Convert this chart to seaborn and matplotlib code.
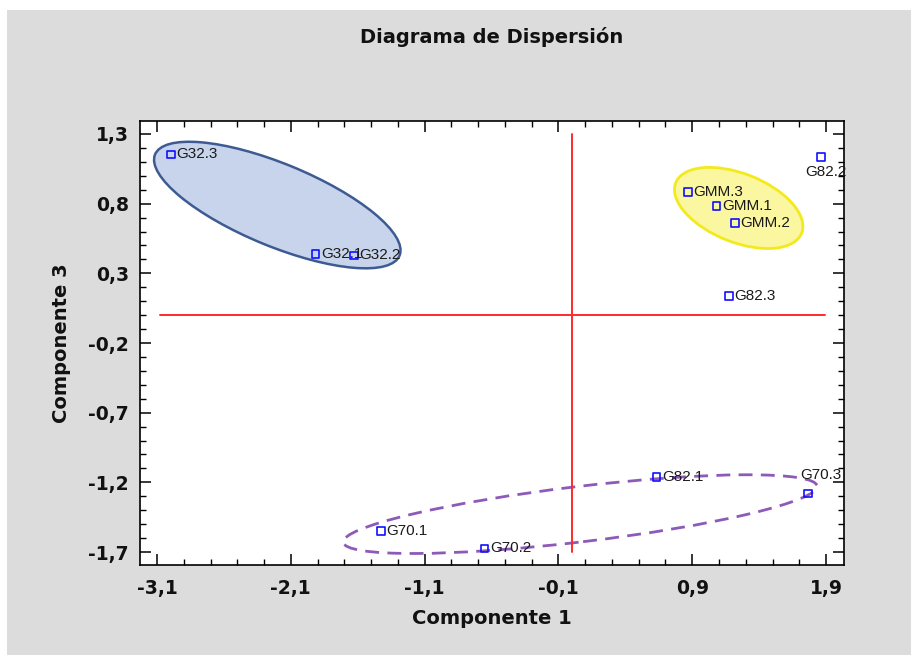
import numpy as np
import pandas as pd
import matplotlib
matplotlib.use("Agg")
import matplotlib.pyplot as plt
from matplotlib.patches import Ellipse, Rectangle
import seaborn as sns

# ---------------- data ----------------
labels = ["G32.3", "G32.1", "G32.2", "GMM.3", "GMM.1", "GMM.2",
          "G82.2", "G82.3", "G82.1", "G70.3", "G70.1", "G70.2"]
comp1 = [-2.996, -1.916, -1.628, 0.868, 1.081, 1.219,
         1.863, 1.174, 0.634, 1.766, -1.428, -0.652]
comp3 = [1.154, 0.439, 0.429, 0.884, 0.783, 0.659,
         1.133, 0.139, -1.160, -1.279, -1.550, -1.674]

xticks = [-3.1, -2.1, -1.1, -0.1, 0.9, 1.9]
yticks = [1.3, 0.8, 0.3, -0.2, -0.7, -1.2, -1.7]

# group ellipses: center x, center y, width, height, angle
ell_centers_x = [-2.201, 1.247, 0.062]
ell_centers_y = [0.790, 0.769, -1.428]
ell_widths = [1.966, 1.008, 3.564]
ell_heights = [0.594, 0.494, 0.398]
ell_angles = [-21.5, -20.5, 6.5]

df = pd.DataFrame({"Componente 1": comp1, "Componente 3": comp3, "label": labels})

# ---------------- style ----------------
sns.set_style("ticks")
plt.rcParams["font.family"] = ["DejaVu Sans"]

W, H = 912, 655
fig = plt.figure(figsize=(W / 100, H / 100), dpi=100)
fig.patch.set_facecolor("white")
fig.patches.append(Rectangle((7 / W, 0), 1 - 7 / W, 1 - 10 / H, transform=fig.transFigure,
                             facecolor="#dcdcdc", edgecolor="none", zorder=-10))

ax = fig.add_axes([140 / W, 1 - 565 / H, (844 - 140) / W, (565 - 121) / H])
ax.set_facecolor("white")

# ellipses
ell_face = ["#c7d4eb", "#fbf7a0", "none"]
ell_edge = ["#3d5b92", "#f2ea1c", "#8d5ab8"]
ell_ls = ["-", "-", (0, (5, 3))]
ell_lw = [1.8, 2.0, 2.0]
for cx, cy, w, h, a, fc, ec, ls, lw in zip(ell_centers_x, ell_centers_y, ell_widths,
                                           ell_heights, ell_angles, ell_face, ell_edge,
                                           ell_ls, ell_lw):
    ax.add_patch(Ellipse((cx, cy), w, h, angle=a, facecolor=fc, edgecolor=ec,
                         linestyle=ls, linewidth=lw, zorder=1))

# reference lines
ax.plot([-3.08, 1.89], [0, 0], color="#ff2a2a", lw=1.4, zorder=2)
ax.plot([0, 0], [-1.70, 1.30], color="#ff2a2a", lw=1.4, zorder=2)

# points
sns.scatterplot(data=df, x="Componente 1", y="Componente 3", marker="s", s=30,
                ax=ax, zorder=3, legend=False)
pts = ax.collections[-1]
pts.set_facecolor("none")
pts.set_edgecolor("#1010ff")
pts.set_linewidth(1.2)

# point labels
px2pt = 0.72
for lab, x, y in zip(labels, comp1, comp3):
    if lab == "G82.2":
        off, ha = (5, -14.5), "center"
    elif lab == "G70.3":
        off, ha = (13, 18), "center"
    else:
        off, ha = (5.5, 0), "left"
    ax.annotate(lab, (x, y), xytext=(off[0] * px2pt, off[1] * px2pt),
                textcoords="offset points", ha=ha, va="center",
                fontsize=11, family="Liberation Sans", color="#1a1a1a", zorder=4)

ax.set_xlim(-3.227, 2.034)
ax.set_ylim(-1.793, 1.393)
ax.set_xticks(xticks)
ax.set_yticks(yticks)
ax.set_xticklabels([f"{v:.1f}".replace(".", ",") for v in xticks])
ax.set_yticklabels([f"{v:.1f}".replace(".", ",") for v in yticks])
ax.set_xticks(np.arange(-3.1, 2.0, 0.2), minor=True)
ax.set_yticks(np.arange(-1.7, 1.35, 0.1), minor=True)
ax.tick_params(which="both", direction="in", top=True, right=True, color="black")
ax.tick_params(which="major", length=8, width=1.1)
ax.tick_params(which="minor", length=4.5, width=1.0)
ax.tick_params(axis="x", which="major", pad=10)
ax.tick_params(axis="y", which="major", pad=8)
for t in ax.get_xticklabels() + ax.get_yticklabels():
    t.set_fontsize(13.5)
    t.set_fontweight("bold")
    t.set_color("#111111")
for s in ax.spines.values():
    s.set_color("black")
    s.set_linewidth(1.2)

ax.set_xlabel("")
ax.set_ylabel("")
fig.text(492 / W, 1 - 618 / H, "Componente 1", ha="center", va="center",
         fontsize=14, fontweight="bold", color="#111111")
fig.text(62 / W, 1 - 343 / H, "Componente 3", ha="center", va="center", rotation=90,
         fontsize=14, fontweight="bold", color="#111111")
fig.text(492 / W, 1 - 37 / H, "Diagrama de Dispersión", ha="center", va="center",
         fontsize=14, fontweight="bold", color="#111111")

fig.savefig("out.png", dpi=100, facecolor=fig.get_facecolor())
